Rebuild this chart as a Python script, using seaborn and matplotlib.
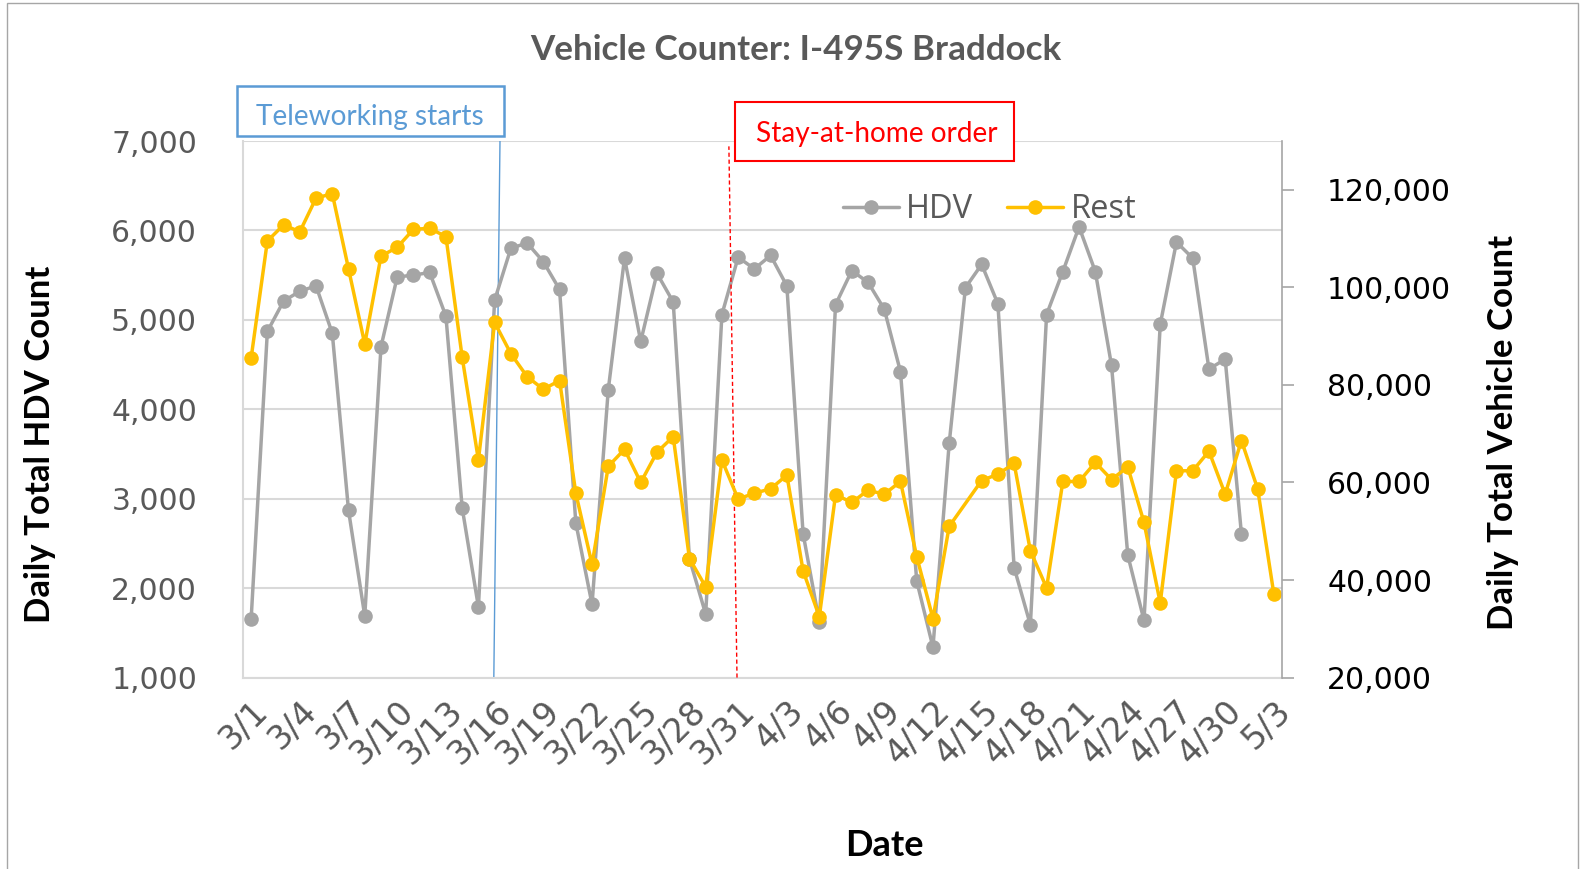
import numpy as np
import pandas as pd
import matplotlib
matplotlib.use("Agg")
import matplotlib.pyplot as plt
import seaborn as sns
from matplotlib.lines import Line2D
from matplotlib.patches import Rectangle
from matplotlib.ticker import FuncFormatter

# daily counts, 3/1 .. 5/3 (HDV stops at 5/1, Rest has no value on 4/14)
dates = pd.date_range("2020-03-01", "2020-05-03", freq="D")
date_labels = [f"{d.month}/{d.day}" for d in dates]

hdv = [1650, 4870, 5210, 5320, 5380, 4850, 2870, 1690, 4700, 5480,
       5500, 5530, 5040, 2900, 1790, 5220, 5800, 5860, 5650, 5340,
       2730, 1820, 4220, 5690, 4760, 5520, 5200, 2330, 1710, 5060,
       5700,
       5570, 5720, 5380, 2610, 1620, 5170, 5550, 5420, 5120, 4420,
       2080, 1340, 3620, 5360, 5620, 5180, 2230, 1590, 5060, 5540,
       6040, 5540, 4490, 2370, 1640, 4950, 5870, 5690, 4450, 4560,
       2610]

rest = [85500, 109500, 112800, 111400, 118300, 119200, 103800, 88400, 106400, 108200,
        111900, 112100, 110400, 85700, 64600, 92800, 86400, 81700, 79100, 80900,
        57800, 43200, 63300, 66800, 60000, 66200, 69400, 44400, 38600, 64600,
        56600,
        57800, 58700, 61500, 41900, 32500, 57500, 55900, 58400, 57600, 60200,
        44800, 32100, 51000, np.nan, 60400, 61700, 63900, 46000, 38400, 60200,
        60200, 64100, 60600, 63200, 51800, 35300, 62400, 62400, 66400, 57600,
        68600, 58700, 37100]

hdv_color = "#A5A5A5"
rest_color = "#FFC000"
grid_color = "#D9D9D9"
label_grey = "#595959"

df_hdv = pd.DataFrame({"day": np.arange(len(hdv)), "count": hdv})
df_rest = pd.DataFrame({"day": np.arange(len(rest)), "count": rest})

sns.set_style("white")
plt.rcParams["font.family"] = ["DejaVu Sans"]

W, H = 1581, 869
fig = plt.figure(figsize=(W / 100, H / 100), dpi=100)
left, right, top, bottom = 243, 1282, 141, 677.6
ax = fig.add_axes([left / W, 1 - bottom / H, (right - left) / W, (bottom - top) / H])
ax2 = ax.twinx()

sns.lineplot(data=df_hdv, x="day", y="count", ax=ax, color=hdv_color, marker="o",
             markersize=10.5, markeredgewidth=0, linewidth=2.5)
sns.lineplot(data=df_rest, x="day", y="count", ax=ax2, color=rest_color, marker="o",
             markersize=10.5, markeredgewidth=0, linewidth=2.5)

# event markers
ax.plot([14.95, 15.33], [1000, 7000], color="#5B9BD5", lw=1.0, zorder=1)
ax2.plot([29.93, 29.43], [20000, 128900], color="#FF0000", lw=1.0,
         linestyle=(0, (3, 2)), zorder=0)

# axes
ax.set_xlim(-0.5, len(date_labels) - 0.5)
ax.set_ylim(1000, 7000)
ax2.set_ylim(20000, 130000)
ax.set_yticks(range(1000, 7001, 1000))
ax2.set_yticks(range(20000, 120001, 20000))
fmt = FuncFormatter(lambda v, p: f"{int(v):,}")
ax.yaxis.set_major_formatter(fmt)
ax2.yaxis.set_major_formatter(fmt)

ax.set_xticks(range(0, len(date_labels), 3))
ax.set_xticklabels(date_labels[::3], rotation=45, ha="right", rotation_mode="anchor")
ax.set_xticks(np.arange(-0.5, len(date_labels), 3), minor=True)
ax.tick_params(axis="x", which="major", length=0, pad=12, labelsize=24, labelcolor=label_grey)
ax.tick_params(axis="x", which="minor", length=6, width=1.2, color=grid_color)
ax.tick_params(axis="y", length=0, pad=33, labelsize=21.5, labelcolor=label_grey)
ax2.tick_params(axis="y", length=8.5, width=1.2, color="#A6A6A6", pad=24,
                labelsize=21.5, labelcolor="black")

ax.yaxis.grid(True, color=grid_color, lw=1.5)
ax.set_axisbelow(True)
for s in ["top", "right"]:
    ax.spines[s].set_visible(False)
ax.spines["left"].set_color(grid_color)
ax.spines["bottom"].set_color(grid_color)
ax.spines["left"].set_linewidth(1.5)
ax.spines["bottom"].set_linewidth(1.5)
for s in ["top", "left", "bottom"]:
    ax2.spines[s].set_visible(False)
ax2.spines["right"].set_color("#A6A6A6")
ax2.spines["right"].set_linewidth(1.2)

ax.set_xlabel("")
ax.set_ylabel("")
ax2.set_xlabel("")
ax2.set_ylabel("")

# legend
handles = [Line2D([], [], color=hdv_color, lw=2.5, marker="o", markersize=10.5, markeredgewidth=0),
           Line2D([], [], color=rest_color, lw=2.5, marker="o", markersize=10.5, markeredgewidth=0)]
leg = ax2.legend(handles, ["HDV", "Rest"], loc="center left", ncol=2, frameon=False,
                 bbox_to_anchor=(843 / W, 1 - 210 / H), bbox_transform=fig.transFigure,
                 borderpad=0, borderaxespad=0, handlelength=1.72, handletextpad=0.22,
                 columnspacing=1.03, prop={"family": "Open Sans", "size": 23.5})
for t in leg.get_texts():
    t.set_color(label_grey)

# texts
fig.text(796 / W, 1 - 50 / H, "Vehicle Counter: I-495S Braddock", ha="center", va="center",
         fontsize=25.2, fontweight="bold", color=label_grey, family="Lato")
fig.text(40 / W, 1 - 444 / H, "Daily Total HDV Count", rotation=90, ha="center", va="center",
         fontsize=25, fontweight="bold", color="black", family="Lato")
fig.text(1503 / W, 1 - 432 / H, "Daily Total Vehicle Count", rotation=90, ha="center", va="center",
         fontsize=25, fontweight="bold", color="black", family="Lato")
fig.text(884 / W, 1 - 846 / H, "Date", ha="center", va="center",
         fontsize=26, fontweight="bold", color="black", family="Lato")

# annotation boxes
fig.add_artist(Rectangle((236.7 / W, 1 - 135.7 / H), (504 - 236.7) / W, 50 / H,
                         transform=fig.transFigure, facecolor="white",
                         edgecolor="#5B9BD5", lw=1.8, zorder=5))
fig.text(370 / W, 1 - 117 / H, "Teleworking starts", ha="center", va="center",
         fontsize=20.2, color="#5B9BD5", family="Lato", zorder=6)
fig.add_artist(Rectangle((735 / W, 1 - 160.7 / H), (1014 - 735) / W, 58.4 / H,
                         transform=fig.transFigure, facecolor="white",
                         edgecolor="#FF0000", lw=1.5, zorder=5))
fig.text(877 / W, 1 - 134 / H, "Stay-at-home order", ha="center", va="center",
         fontsize=20.2, color="#FF0000", family="Lato", zorder=6)

# chart border
fig.add_artist(Rectangle((7 / W, -0.02), (1578 - 7) / W, (H - 3) / H + 0.02,
                         transform=fig.transFigure, fill=False, edgecolor="#A6A6A6", lw=1.0))

fig.savefig("out.png", dpi=100)
